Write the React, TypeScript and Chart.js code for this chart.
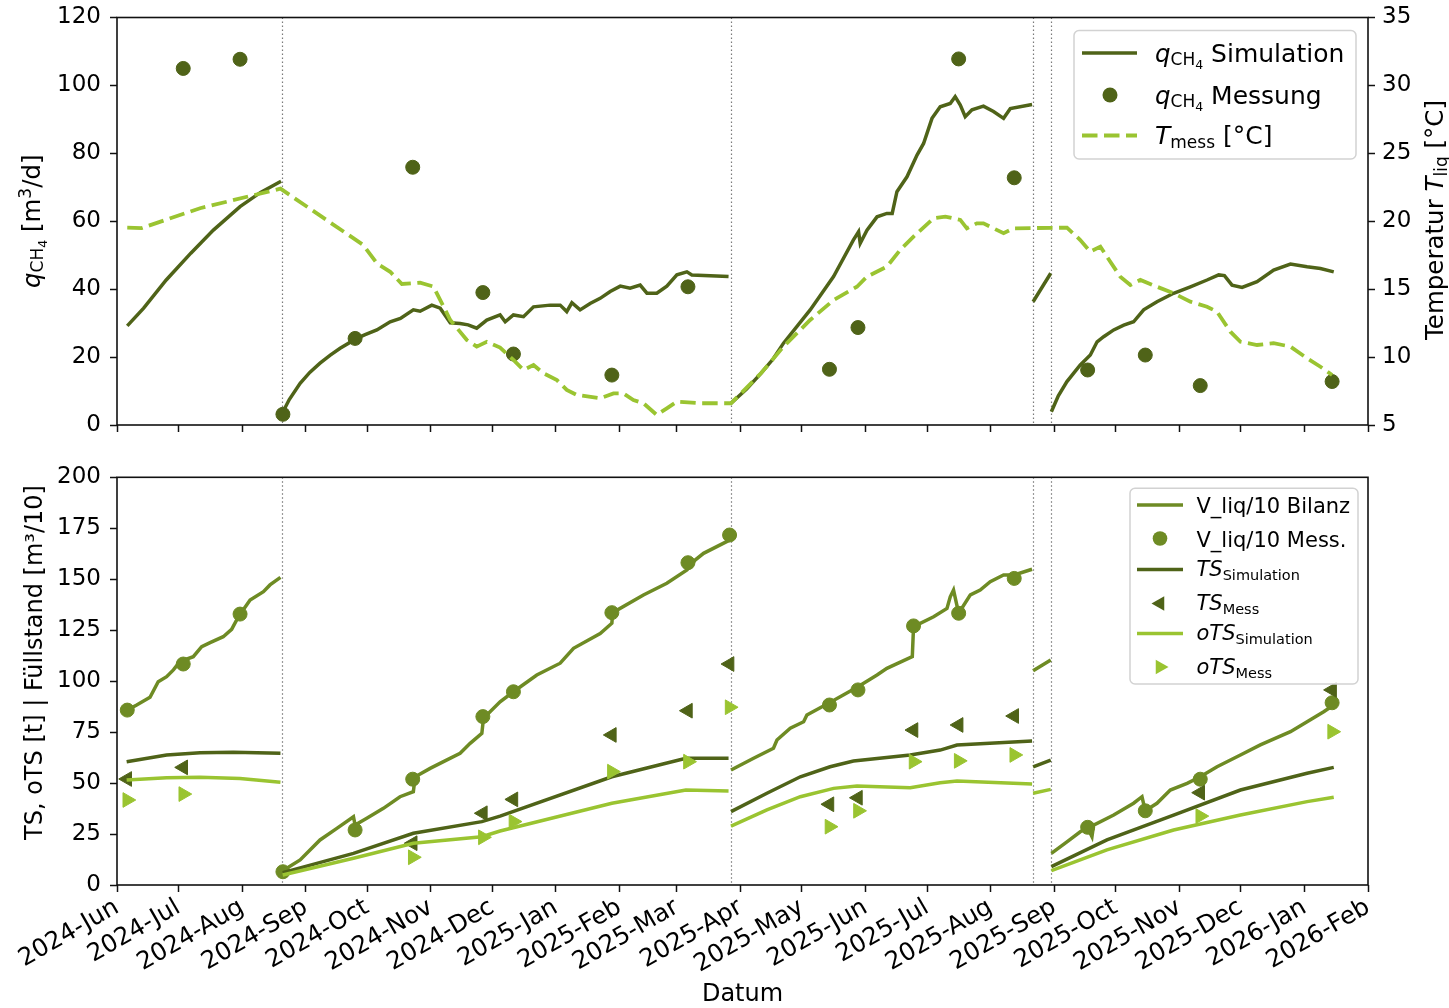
import React, { useEffect, useRef } from 'react';
import { Chart, registerables } from 'chart.js';
Chart.register(...registerables);

// ---------- DATA (x = days since 2024-06-01) ----------
const tickLabels = ['2024-Jun','2024-Jul','2024-Aug','2024-Sep','2024-Oct','2024-Nov','2024-Dec','2025-Jan','2025-Feb','2025-Mar','2025-Apr','2025-May','2025-Jun','2025-Jul','2025-Aug','2025-Sep','2025-Oct','2025-Nov','2025-Dec','2026-Jan','2026-Feb'];
const phaseBreaks = [80.3, 299.4, 446.7, 455.5];

// q_CH4 simulation (segments)
const qSimDays = [
  [5, 13, 24, 36, 47, 60, 70, 80],
  [80.5, 84, 89.3, 94, 99, 104, 108.8, 116.9, 121, 126.7, 133.2, 138.2, 144.5, 147.8, 153.5, 157.6, 162.5, 167.3, 171.2, 175.4, 180.3, 186.8, 189.3, 193.3, 198.2, 203.1, 211.2, 216.1, 219.3, 221.8, 225.8, 230.7, 235.6, 240.5, 245.4, 250.2, 255.1, 258.4, 263.2, 268.1, 273.0, 277.9, 280.3, 298.2],
  [299.4, 307, 314, 320, 325, 338, 349.4, 359.1, 361.6, 362.4, 365.7, 370.6, 375.4, 378, 380.3, 385.2, 390.1, 393.3, 397.4, 401.4, 406.3, 408.7, 411.2, 413.6, 416.9, 422.5, 427.4, 432.3, 435.6, 446.2],
  [446.7, 455.3],
  [455.6, 459, 463.2, 469.7, 474.6, 477.9, 481.1, 486.0, 490.9, 495.7, 500.6, 507.1, 515.2, 523.4, 531.5, 537.2, 540, 543.7, 548.6, 555.9, 564.0, 572.2, 580.3, 586.8, 593.3],
];
const qSimVals = [
  [29.2, 34.4, 42.7, 50.6, 57.4, 64.3, 68.5, 71.8],
  [3.4, 7.5, 12.3, 15.5, 18.2, 20.6, 22.6, 25.5, 26.6, 28.0, 30.4, 31.4, 33.9, 33.5, 35.3, 34.4, 30.1, 29.9, 29.5, 28.5, 30.9, 32.4, 30.4, 32.4, 31.9, 34.8, 35.3, 35.3, 33.4, 36.0, 33.9, 35.8, 37.3, 39.3, 40.9, 40.3, 41.2, 38.8, 38.8, 40.9, 44.2, 45.1, 44.2, 43.7],
  [6.4, 10.6, 15.2, 19.5, 24.1, 33.9, 43.7, 54.5, 56.9, 53.5, 57.4, 61.3, 62.3, 62.3, 68.7, 73.1, 79.5, 82.9, 90.3, 93.7, 94.7, 96.7, 94.2, 90.8, 92.8, 93.9, 92.3, 90.3, 93.2, 94.4],
  [36.3, 44.7],
  [3.9, 8.6, 12.8, 17.7, 20.6, 24.5, 26.0, 28.0, 29.4, 30.4, 33.9, 36.3, 38.8, 40.7, 42.7, 44.2, 44.0, 41.2, 40.5, 42.2, 45.6, 47.4, 46.6, 46.1, 45.1],
];

// measured temperature [°C]
const tempDays = [5, 12, 40.5, 79.7, 120.1, 126.7, 133.2, 138.9, 147.8, 154.3, 162.5, 170.6, 175.4, 180.3, 186.8, 193.3, 198.2, 203.1, 207.9, 214.5, 219.3, 224.2, 235.6, 242.1, 246.9, 251.8, 256.7, 263.2, 268.1, 273.0, 284.4, 299.4, 314.0, 325.0, 338.0, 349.4, 360.8, 365.7, 375.4, 381.9, 388.4, 398.2, 403.9, 411.2, 414.4, 419.3, 422.5, 427.4, 432.3, 437.2, 463.2, 469.7, 474.6, 479.5, 482.7, 489.2, 494.1, 499.0, 507.1, 515.2, 523.4, 531.5, 536.4, 542.9, 547.8, 555.9, 564.0, 572.2, 580.3, 586.8, 592.5];
const tempVals = [19.53, 19.5, 20.96, 22.4, 18.25, 16.9, 16.28, 15.38, 15.48, 15.19, 12.73, 11.26, 10.77, 11.13, 10.7, 9.79, 9.05, 9.42, 8.81, 8.31, 7.58, 7.21, 6.97, 7.33, 7.33, 6.84, 6.6, 5.74, 6.23, 6.72, 6.6, 6.6, 8.81, 10.77, 12.73, 14.2, 15.18, 15.92, 16.66, 17.89, 18.87, 20.22, 20.34, 20.1, 19.48, 19.85, 19.85, 19.48, 19.12, 19.48, 19.53, 18.62, 17.76, 18.13, 17.39, 15.92, 15.31, 15.68, 15.18, 14.7, 14.08, 13.71, 13.34, 11.87, 11.13, 10.89, 11.02, 10.77, 9.91, 9.29, 8.68];

// measurement dates
const messDays = [5, 32.3, 60, 80.9, 116.1, 144.2, 178.4, 193.3, 241.3, 278.4, 298.7, 347.4, 361.3, 388.4, 410.4, 437.5, 473.3, 501.4, 528.2, 592.5];
const qMessVals = [null, 105.0, 107.7, 3.15, 25.5, 75.9, 39.0, 20.9, 14.7, 40.7, null, 16.4, 28.7, null, 107.8, 72.8, 16.2, 20.6, 11.6, 12.8];
const vMessVals = [85.8, 108.4, 132.9, 6.5, 27.0, 51.9, 82.6, 94.8, 133.6, 158.1, 171.7, 88.3, 95.7, 127.1, 133.3, 150.4, 28.3, 36.4, 51.9, 89.4];
const tsMessVals = [52.0, 57.7, null, null, null, 20.5, 35.2, 42.0, 73.6, 85.5, 108.4, 39.6, 42.8, 76.0, 78.5, 82.9, null, null, 45.3, 95.7];
const otsMessVals = [41.7, 44.6, null, null, null, 13.6, 23.4, 31.1, 55.6, 60.5, 87.2, 28.6, 36.4, 60.5, 60.9, 63.8, null, null, 33.8, 75.2];

// V_liq/10 balance (segments)
const vDays = [
  [5.0, 9.6, 16.1, 20.1, 24.2, 27.5, 30.7, 37.2, 41.3, 45.4, 51.8, 55.9, 59.2, 64.9, 71.4, 74.6, 79.7],
  [80.8, 89.3, 99.0, 107.2, 115.3, 116.1, 121.8, 129.9, 138.0, 144.5, 145.4, 152.7, 159.2, 167.3, 172.2, 177.9, 178.7, 186.8, 193.3, 204.7, 216.1, 222.6, 235.6, 241.3, 241.7, 256.7, 268.1, 277.9, 281.9, 286.0, 298.7],
  [299.4, 310.4, 320.1, 321.8, 328.3, 334.8, 336.4, 347.4, 361.3, 370.6, 375.4, 387.8, 388.4, 398.2, 404.7, 406.3, 407.9, 410.4, 416.1, 420.9, 425.8, 432.3, 437.5, 446.2],
  [446.7, 455.3],
  [455.6, 463.2, 469.7, 473.3, 475.4, 476.2, 486.0, 495.7, 499.8, 501.4, 507.1, 513.6, 521.8, 528.2, 536.4, 547.8, 557.5, 572.2, 580.3, 588.4, 593.3],
];
const vVals = [
  [85.8, 88.3, 92.1, 99.7, 102.2, 105.5, 109.6, 112.0, 116.9, 118.9, 121.8, 125.4, 131.6, 139.8, 143.9, 147.2, 150.9],
  [7.0, 12.3, 22.1, 27.8, 33.5, 29.4, 32.7, 37.6, 43.3, 45.8, 53.1, 57.2, 60.5, 64.6, 69.5, 74.4, 81.8, 89.9, 94.8, 103.0, 108.8, 116.1, 123.4, 128.4, 133.6, 142.3, 148.0, 154.5, 159.4, 162.7, 169.2],
  [56.4, 62.2, 67.1, 71.1, 76.9, 80.1, 83.4, 89.4, 97.3, 103.0, 106.3, 112.0, 126.7, 131.6, 135.7, 141.4, 144.7, 133.3, 142.3, 144.7, 148.8, 152.1, 152.1, 154.9],
  [105.1, 110.4],
  [15.5, 21.2, 26.1, 28.0, 23.7, 29.4, 34.3, 40.1, 43.3, 36.4, 40.1, 46.6, 49.9, 53.1, 58.0, 63.8, 68.7, 75.2, 80.1, 85.0, 88.3],
];

// TS simulation (segments)
const tsDays = [
  [4.7, 24.2, 40.5, 56.7, 79.7],
  [80.8, 97.4, 115.3, 144.5, 177.9, 186.8, 241.3, 277.4, 298.2],
  [299.4, 316.9, 333.2, 347.7, 359.1, 386.8, 401.4, 409.6, 446.2],
  [446.7, 455.3],
  [455.6, 482.7, 515.2, 547.8, 580.3, 593.3],
];
const tsVals = [
  [60.5, 63.8, 64.9, 65.1, 64.6],
  [6.0, 10.6, 15.5, 25.4, 31.1, 33.8, 53.1, 62.2, 62.2],
  [36.0, 45.0, 53.1, 58.0, 60.8, 63.8, 66.2, 68.7, 70.6],
  [58.0, 61.3],
  [9.0, 22.1, 34.3, 46.6, 54.8, 57.7],
];

// oTS simulation (segments)
const otsDays = [
  [4.7, 24.2, 40.5, 60.0, 79.7],
  [80.8, 115.3, 144.5, 177.9, 186.8, 241.3, 277.4, 298.2],
  [299.4, 316.9, 333.2, 349.4, 360.8, 386.8, 401.4, 409.6, 446.2],
  [446.7, 455.3],
  [455.6, 482.7, 515.2, 547.8, 580.3, 593.3],
];
const otsVals = [
  [51.5, 52.6, 52.8, 52.3, 50.4],
  [4.9, 13.1, 20.5, 23.7, 26.5, 40.1, 46.6, 46.1],
  [28.9, 36.8, 43.3, 47.4, 48.6, 47.7, 50.2, 51.0, 49.5],
  [45.0, 46.9],
  [7.0, 17.2, 27.0, 34.3, 40.9, 43.0],
];

// ---------- helpers ----------
const MON = ['Jan','Feb','Mar','Apr','May','Jun','Jul','Aug','Sep','Oct','Nov','Dec'];
const T0 = Date.UTC(2024, 5, 1);
function labelDay(l: string) {
  const [y, m] = l.split('-');
  return (Date.UTC(+y, MON.indexOf(m), 1) - T0) / 86400000;
}
const tickDays = tickLabels.map(labelDay);
const X_MAX = tickDays[tickDays.length - 1];

function segPts(days: number[][], vals: number[][]) {
  const out: any[] = [];
  days.forEach((d, i) => {
    if (i > 0) {
      const prev = days[i - 1];
      out.push({ x: (prev[prev.length - 1] + d[0]) / 2, y: null });
    }
    d.forEach((x, j) => out.push({ x, y: vals[i][j] }));
  });
  return out;
}
function pts(days: number[], vals: (number | null)[]) {
  return days.map((x, i) => ({ x, y: vals[i] }));
}

const FONT = '"DejaVu Sans", "Noto Sans", sans-serif';
const DARK = '#4f6318';
const MID = '#6e8b24';
const LIGHT = '#9ac431';

type Part = { t: string; s: number; it?: boolean; dy?: number };
function fnt(p: Part) { return `${p.it ? 'italic ' : ''}${p.s}px ${FONT}`; }
function richWidth(ctx: CanvasRenderingContext2D, parts: Part[]) {
  let w = 0;
  for (const p of parts) { ctx.font = fnt(p); w += ctx.measureText(p.t).width; }
  return w;
}
function rich(ctx: CanvasRenderingContext2D, x: number, y: number, parts: Part[]) {
  ctx.save();
  ctx.fillStyle = '#000';
  ctx.textBaseline = 'alphabetic';
  ctx.textAlign = 'left';
  let cx = x;
  for (const p of parts) {
    ctx.font = fnt(p);
    ctx.fillText(p.t, cx, y + (p.dy || 0));
    cx += ctx.measureText(p.t).width;
  }
  ctx.restore();
}
function richVertical(ctx: CanvasRenderingContext2D, bx: number, cy: number, parts: Part[]) {
  const w = richWidth(ctx, parts);
  ctx.save();
  ctx.translate(bx, cy);
  ctx.rotate(-Math.PI / 2);
  rich(ctx, -w / 2, 0, parts);
  ctx.restore();
}
function roundBox(ctx: CanvasRenderingContext2D, x: number, y: number, w: number, h: number) {
  const r = 5;
  ctx.save();
  ctx.beginPath();
  ctx.moveTo(x + r, y);
  ctx.lineTo(x + w - r, y); ctx.arcTo(x + w, y, x + w, y + r, r);
  ctx.lineTo(x + w, y + h - r); ctx.arcTo(x + w, y + h, x + w - r, y + h, r);
  ctx.lineTo(x + r, y + h); ctx.arcTo(x, y + h, x, y + h - r, r);
  ctx.lineTo(x, y + r); ctx.arcTo(x, y, x + r, y, r);
  ctx.closePath();
  ctx.fillStyle = 'rgba(255,255,255,0.85)';
  ctx.fill();
  ctx.strokeStyle = '#d2d2d2';
  ctx.lineWidth = 1.5;
  ctx.stroke();
  ctx.restore();
}
function hline(ctx: CanvasRenderingContext2D, x1: number, x2: number, y: number, color: string, w: number, dash: number[]) {
  ctx.save();
  ctx.strokeStyle = color; ctx.lineWidth = w; ctx.setLineDash(dash); ctx.lineCap = 'butt';
  ctx.beginPath(); ctx.moveTo(x1, y); ctx.lineTo(x2, y); ctx.stroke();
  ctx.restore();
}
function dot(ctx: CanvasRenderingContext2D, x: number, y: number, r: number, color: string) {
  ctx.save(); ctx.fillStyle = color; ctx.beginPath(); ctx.arc(x, y, r, 0, Math.PI * 2); ctx.fill(); ctx.restore();
}
function tri(ctx: CanvasRenderingContext2D, x: number, y: number, r: number, rotDeg: number, color: string) {
  ctx.save(); ctx.fillStyle = color; ctx.beginPath();
  let rad = rotDeg * Math.PI / 180;
  for (let i = 0; i < 3; i++) {
    const px = x + Math.sin(rad) * r, py = y - Math.cos(rad) * r;
    if (i === 0) ctx.moveTo(px, py); else ctx.lineTo(px, py);
    rad += 2 * Math.PI / 3;
  }
  ctx.closePath(); ctx.fill(); ctx.restore();
}
function drawBreaks(chart: any) {
  const { ctx, chartArea: a, scales } = chart;
  ctx.save();
  ctx.strokeStyle = '#7a7a7a'; ctx.lineWidth = 1.2; ctx.setLineDash([1.5, 2.5]);
  for (const d of phaseBreaks) {
    const px = Math.round(scales.x.getPixelForValue(d)) + 0.5;
    ctx.beginPath(); ctx.moveTo(px, a.top); ctx.lineTo(px, a.bottom); ctx.stroke();
  }
  ctx.restore();
}
function drawFrame(chart: any) {
  const { ctx, chartArea: a } = chart;
  ctx.save(); ctx.strokeStyle = '#111'; ctx.lineWidth = 1.6;
  ctx.strokeRect(a.left, a.top, a.right - a.left, a.bottom - a.top);
  ctx.restore();
}
const noPadY = (w: number) => (s: any) => { s.width = w; s.paddingTop = 0; s.paddingBottom = 0; };
const noPadX = (h: number) => (s: any) => { s.height = h; s.paddingLeft = 0; s.paddingRight = 0; };

const qSub: Part[] = [{ t: 'q', s: 24.5, it: true }, { t: 'CH', s: 17, dy: 3 }, { t: '4', s: 12.5, dy: 7 }];

const topDecor = {
  id: 'topDecor',
  beforeDatasetsDraw(chart: any) { drawBreaks(chart); },
  afterDatasetsDraw(chart: any) { drawFrame(chart); },
  afterDraw(chart: any) {
    const ctx = chart.ctx as CanvasRenderingContext2D;
    const a = chart.chartArea;
    richVertical(ctx, 39.5, (a.top + a.bottom) / 2, [
      { t: 'q', s: 24.5, it: true }, { t: 'CH', s: 17, dy: 3 }, { t: '4', s: 12.5, dy: 7 },
      { t: ' [m', s: 24.5 }, { t: '3', s: 17, dy: -9 }, { t: '/d]', s: 24.5 },
    ]);
    richVertical(ctx, 1443, 220, [
      { t: 'Temperatur ', s: 24.5 }, { t: 'T', s: 24.5, it: true }, { t: 'liq', s: 17, dy: 4 }, { t: ' [°C]', s: 24.5 },
    ]);
    roundBox(ctx, 1074, 30.5, 282, 128.5);
    hline(ctx, 1082, 1137, 53, DARK, 3.5, []);
    rich(ctx, 1155, 61.5, [...qSub, { t: ' Simulation', s: 25 }]);
    dot(ctx, 1110, 95, 7.5, DARK);
    rich(ctx, 1155, 103.5, [...qSub, { t: ' Messung', s: 25 }]);
    hline(ctx, 1082, 1137, 135.5, LIGHT, 3.8, [15.5, 6.5]);
    rich(ctx, 1155, 144, [{ t: 'T', s: 25, it: true }, { t: 'mess', s: 17, dy: 4 }, { t: ' [°C]', s: 25 }]);
  },
};

const botDecor = {
  id: 'botDecor',
  beforeDatasetsDraw(chart: any) { drawBreaks(chart); },
  afterDatasetsDraw(chart: any) { drawFrame(chart); },
  afterDraw(chart: any) {
    const ctx = chart.ctx as CanvasRenderingContext2D;
    const a = chart.chartArea;
    richVertical(ctx, 41.5, 222.5, [{ t: 'TS, oTS [t] | Füllstand [m³/10]', s: 24 }]);
    ctx.save();
    ctx.font = `24px ${FONT}`; ctx.fillStyle = '#000'; ctx.textAlign = 'center'; ctx.textBaseline = 'middle';
    ctx.fillText('Datum', (a.left + a.right) / 2, a.bottom + 110);
    ctx.restore();
    const off = 440;
    roundBox(ctx, 1130, 488.3 - off, 228, 195.7);
    const rows = [505, 538.5, 569.5, 603.5, 633.5, 667].map((v) => v - off);
    const hx1 = 1137, hx2 = 1183, mx = 1160, tx = 1196.5;
    hline(ctx, hx1, hx2, rows[0], MID, 3.5, []);
    rich(ctx, tx, rows[0] + 8, [{ t: 'V_liq/10 Bilanz', s: 21 }]);
    dot(ctx, mx, rows[1], 7.3, MID);
    rich(ctx, tx, rows[1] + 8, [{ t: 'V_liq/10 Mess.', s: 21 }]);
    hline(ctx, hx1, hx2, rows[2], DARK, 3.5, []);
    rich(ctx, tx, rows[2] + 6.5, [{ t: 'TS', s: 21, it: true }, { t: 'Simulation', s: 14.5, dy: 4 }]);
    tri(ctx, mx, rows[3], 8.5, -90, DARK);
    rich(ctx, tx, rows[3] + 6.5, [{ t: 'TS', s: 21, it: true }, { t: 'Mess', s: 14.5, dy: 4 }]);
    hline(ctx, hx1, hx2, rows[4], LIGHT, 3.5, []);
    rich(ctx, tx, rows[4] + 6.5, [{ t: 'oTS', s: 21, it: true }, { t: 'Simulation', s: 14.5, dy: 4 }]);
    tri(ctx, mx, rows[5], 8.5, 90, LIGHT);
    rich(ctx, tx, rows[5] + 6.5, [{ t: 'oTS', s: 21, it: true }, { t: 'Mess', s: 14.5, dy: 4 }]);
  },
};

const tickFont = { family: FONT, size: 23 };
const xTickFont = { family: FONT, size: 24.5 };
const gridOpts = { display: true, drawOnChartArea: false, drawTicks: true, tickLength: 7, tickWidth: 1.5, tickColor: '#111', color: '#111' };
const setMonthTicks = (s: any) => { s.ticks = tickDays.map((v) => ({ value: v })); };

function lineDs(data: any[], color: string, extra: any = {}) {
  return { data, borderColor: color, backgroundColor: color, borderWidth: 3.5, pointRadius: 0, pointHoverRadius: 0, spanGaps: false, tension: 0, fill: false, ...extra };
}
function markDs(data: any[], color: string, style: string, rot: number, r: number, extra: any = {}) {
  return { data, showLine: false, pointStyle: style, pointRotation: rot, pointRadius: r, pointHoverRadius: r, pointBackgroundColor: color, pointBorderColor: color, pointBorderWidth: 1, borderColor: color, backgroundColor: color, ...extra };
}

export default function App() {
  const topRef = useRef<HTMLCanvasElement>(null);
  const botRef = useRef<HTMLCanvasElement>(null);

  useEffect(() => {
    const c1 = new Chart(topRef.current as HTMLCanvasElement, {
      type: 'line',
      data: {
        datasets: [
          lineDs(pts(tempDays, tempVals), LIGHT, { yAxisID: 'y2', borderDash: [15.5, 6.5], borderWidth: 3.8, order: 0 }),
          markDs(pts(messDays, qMessVals), DARK, 'circle', 0, 7, { yAxisID: 'y', order: 1 }),
          lineDs(segPts(qSimDays, qSimVals), DARK, { yAxisID: 'y', order: 2 }),
        ] as any,
      },
      options: {
        animation: false,
        responsive: false,
        maintainAspectRatio: false,
        events: [],
        layout: { padding: { top: 17.5, left: 0, right: 0, bottom: 0 } },
        plugins: { legend: { display: false }, tooltip: { enabled: false } },
        scales: {
          x: {
            type: 'linear', min: 0, max: X_MAX, position: 'bottom',
            afterBuildTicks: setMonthTicks,
            ticks: { display: false },
            grid: gridOpts, border: { display: false },
            afterFit: noPadX(15),
          },
          y: {
            type: 'linear', position: 'left', min: 0, max: 120,
            ticks: { stepSize: 20, font: tickFont, color: '#000', padding: 9 },
            grid: gridOpts, border: { display: false },
            afterFit: noPadY(117),
          },
          y2: {
            type: 'linear', position: 'right', min: 5, max: 35,
            ticks: { stepSize: 5, font: tickFont, color: '#000', padding: 7 },
            grid: gridOpts, border: { display: false },
            afterFit: noPadY(81),
          },
        },
      } as any,
      plugins: [topDecor],
    });

    const c2 = new Chart(botRef.current as HTMLCanvasElement, {
      type: 'line',
      data: {
        datasets: [
          markDs(pts(messDays, otsMessVals), LIGHT, 'triangle', 90, 8.5, { order: 0 }),
          lineDs(segPts(otsDays, otsVals), LIGHT, { order: 1 }),
          markDs(pts(messDays, tsMessVals), DARK, 'triangle', -90, 8.5, { order: 2 }),
          lineDs(segPts(tsDays, tsVals), DARK, { order: 3 }),
          markDs(pts(messDays, vMessVals), MID, 'circle', 0, 7, { order: 4 }),
          lineDs(segPts(vDays, vVals), MID, { order: 5 }),
        ] as any,
      },
      options: {
        animation: false,
        responsive: false,
        maintainAspectRatio: false,
        events: [],
        layout: { padding: { top: 37.3, left: 0, right: 81, bottom: 0 } },
        plugins: { legend: { display: false }, tooltip: { enabled: false } },
        scales: {
          x: {
            type: 'linear', min: 0, max: X_MAX, position: 'bottom',
            afterBuildTicks: setMonthTicks,
            ticks: {
              display: true, autoSkip: false, maxRotation: 30, minRotation: 30,
              font: xTickFont, color: '#000', padding: 1,
              callback: (_v: any, i: number) => tickLabels[i],
            },
            grid: gridOpts, border: { display: false },
            afterFit: noPadX(123),
          },
          y: {
            type: 'linear', position: 'left', min: 0, max: 200,
            ticks: { stepSize: 25, font: tickFont, color: '#000', padding: 9 },
            grid: gridOpts, border: { display: false },
            afterFit: noPadY(117),
          },
        },
      } as any,
      plugins: [botDecor],
    });

    return () => { c1.destroy(); c2.destroy(); };
  }, []);

  return (
    <div style={{ position: 'absolute', left: 0, top: 0, width: 1449, height: 1008, background: '#fff', overflow: 'hidden' }}>
      <canvas ref={topRef} width={1449} height={440} style={{ position: 'absolute', left: 0, top: 0, width: 1449, height: 440, display: 'block' }} />
      <canvas ref={botRef} width={1449} height={568} style={{ position: 'absolute', left: 0, top: 440, width: 1449, height: 568, display: 'block' }} />
    </div>
  );
}
